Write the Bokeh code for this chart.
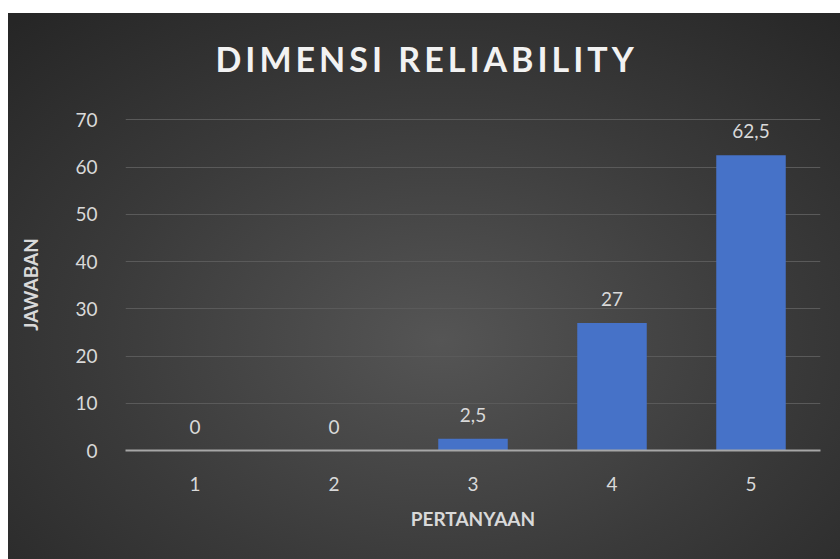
from bokeh.plotting import figure
from bokeh.models import ColumnDataSource, Spacer
from bokeh.layouts import column, row
from bokeh.core.properties import value
from bokeh.embed import file_html
from bokeh.resources import INLINE

categories = ["1", "2", "3", "4", "5"]
values = [0, 0, 2.5, 27, 62.5]
value_labels = ["0", "0", "2,5", "27", "62,5"]
y_ticks = [0, 10, 20, 30, 40, 50, 60, 70]

title_text = "DIMENSI RELIABILITY"
x_title = "PERTANYAAN"
y_title = "JAWABAN"

src = ColumnDataSource(dict(cat=categories, val=values, lab=value_labels))

FONT = "Lato"
LIGHT = "#d9d9d9"
TITLE_H = 95

# Title strip (separate figure so that only the title gets letter spacing)
t = figure(width=832, height=TITLE_H, output_backend="svg", toolbar_location=None,
           min_border_left=0, min_border_right=0, min_border_top=0, min_border_bottom=0)
t.background_fill_alpha = 0
t.border_fill_alpha = 0
t.outline_line_color = None
t.axis.visible = False
t.grid.visible = False
t.title.text = title_text
t.title.align = "left"
t.title.offset = 90
t.title.standoff = 0
t.title.text_color = "#f2f2f2"
t.title.text_font = FONT
t.title.text_font_style = "bold"
t.title.text_font_size = "34px"
t.styles = {"letter-spacing": "4px", "padding-top": "22px"}

p = figure(x_range=categories, y_range=(0, 70.3), width=832, height=546 - TITLE_H,
           output_backend="svg", toolbar_location=None,
           min_border_left=117, min_border_right=20, min_border_top=105 - TITLE_H,
           min_border_bottom=109)

p.background_fill_alpha = 0
p.border_fill_alpha = 0
p.outline_line_color = None

p.vbar(x="cat", top="val", width=0.5, source=src, fill_color="#4672c8", line_color=None)
p.text(x="cat", y="val", text="lab", source=src, text_align="center", text_baseline="bottom",
       y_offset=-17, text_color=LIGHT, text_font=value(FONT), text_font_size="19px")

p.xgrid.grid_line_color = None
p.ygrid.ticker = y_ticks
p.ygrid.grid_line_color = "#5a5a5a"
p.ygrid.grid_line_width = 1

p.yaxis.ticker = y_ticks
p.yaxis.axis_line_color = None
p.yaxis.major_tick_line_color = None
p.yaxis.minor_tick_line_color = None
p.yaxis.major_label_standoff = 22
p.yaxis.major_label_text_color = LIGHT
p.yaxis.major_label_text_font = FONT
p.yaxis.major_label_text_font_size = "19px"
p.yaxis.axis_label = y_title
p.yaxis.axis_label_standoff = 30
p.yaxis.axis_label_text_color = LIGHT
p.yaxis.axis_label_text_font = FONT
p.yaxis.axis_label_text_font_style = "bold"
p.yaxis.axis_label_text_font_size = "19px"

p.xaxis.axis_line_color = "#a6a6a6"
p.xaxis.axis_line_width = 2
p.xaxis.major_tick_line_color = None
p.xaxis.minor_tick_line_color = None
p.xaxis.major_label_standoff = 20
p.xaxis.major_label_text_color = LIGHT
p.xaxis.major_label_text_font = FONT
p.xaxis.major_label_text_font_size = "19px"
p.xaxis.axis_label = x_title
p.xaxis.axis_label_standoff = 13
p.xaxis.axis_label_text_color = LIGHT
p.xaxis.axis_label_text_font = FONT
p.xaxis.axis_label_text_font_style = "bold"
p.xaxis.axis_label_text_font_size = "19px"

chart = column(t, p, spacing=0,
               styles={"background": "radial-gradient(ellipse 75% 80% at 52% 60%, #555555 0%, #3a3a3a 55%, #262626 100%)"})
layout = row(Spacer(width=8), column(Spacer(height=13), chart))
open("out.html", "w").write(file_html(layout, INLINE))
